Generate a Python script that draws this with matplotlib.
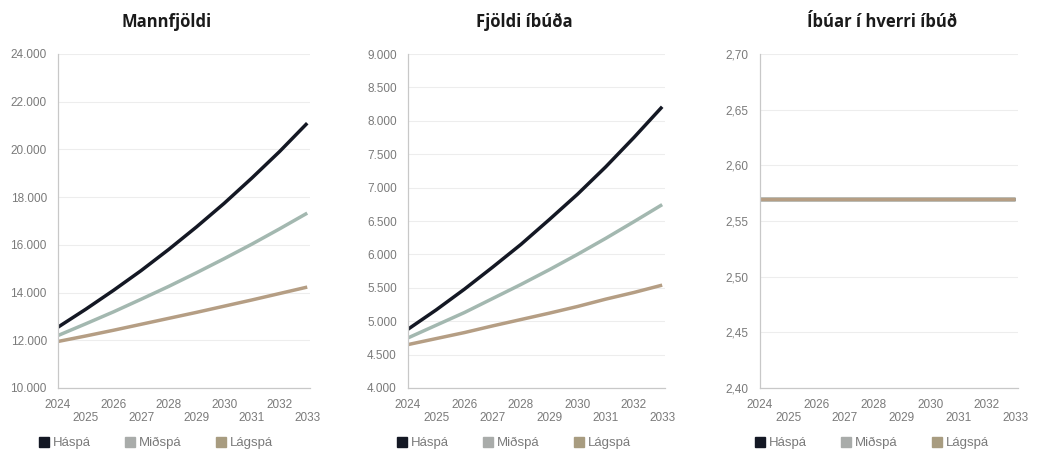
import matplotlib.pyplot as plt
from matplotlib.lines import Line2D
from matplotlib.ticker import FuncFormatter

years = [2024, 2025, 2026, 2027, 2028, 2029, 2030, 2031, 2032, 2033]
series = ['Háspá', 'Miðspá', 'Lágspá']
colors = ['#141824', '#a3b8b0', '#b59e84']
legend_colors = ['#141824', '#a9acaa', '#a89c80']

# Mannfjöldi
pop_hi = [12550, 13300, 14090, 14920, 15810, 16750, 17740, 18800, 19910, 21100]
pop_mid = [12200, 12690, 13190, 13720, 14260, 14830, 15420, 16030, 16670, 17330]
pop_lo = [11950, 12180, 12420, 12670, 12920, 13170, 13430, 13690, 13960, 14230]

# Fjöldi íbúða
dw_hi = [4880, 5170, 5480, 5810, 6150, 6520, 6900, 7310, 7750, 8210]
dw_mid = [4750, 4940, 5130, 5340, 5550, 5770, 6000, 6240, 6490, 6745]
dw_lo = [4650, 4740, 4830, 4930, 5025, 5120, 5220, 5330, 5430, 5540]

# Íbúar í hverri íbúð
ppd_hi = [2.57] * 10
ppd_mid = [2.57] * 10
ppd_lo = [2.57] * 10

plt.rcParams['font.family'] = ['Liberation Sans', 'DejaVu Sans']

fig = plt.figure(figsize=(10.49, 4.5), dpi=100)
W, H = 1049, 450
boxes = [(58, 310), (408, 665), (760, 1018)]
title_x = [167, 524, 882]
legend_x = [39, 397, 755]
top, bottom = 54, 388

panels = [
    ('Mannfjöldi', [pop_hi, pop_mid, pop_lo], (10000, 24000), 2000,
     lambda v, p: f'{int(round(v)):,}'.replace(',', '.')),
    ('Fjöldi íbúða', [dw_hi, dw_mid, dw_lo], (4000, 9000), 500,
     lambda v, p: f'{int(round(v)):,}'.replace(',', '.')),
    ('Íbúar í hverri íbúð', [ppd_hi, ppd_mid, ppd_lo], (2.40, 2.70), 0.05,
     lambda v, p: f'{v:.2f}'.replace('.', ',')),
]

tick_col = '#7a7a7a'

for i, ((x0, x1), (title, data, ylim, step, fmt)) in enumerate(zip(boxes, panels)):
    ax = fig.add_axes([x0 / W, 1 - bottom / H, (x1 - x0) / W, (bottom - top) / H])
    for vals, c in zip(data, colors):
        ax.plot(years, vals, color=c, lw=2.5, solid_capstyle='butt')
    ax.set_xlim(2024, 2033.1)
    ax.set_ylim(*ylim)
    n = int(round((ylim[1] - ylim[0]) / step))
    ax.set_yticks([ylim[0] + k * step for k in range(n + 1)])
    ax.yaxis.set_major_formatter(FuncFormatter(fmt))
    ax.set_xticks(years)
    ax.set_xticklabels([str(y) if k % 2 == 0 else '\n' + str(y) for k, y in enumerate(years)],
                       linespacing=1.05)
    ax.tick_params(axis='both', length=0, labelsize=8.5, labelcolor=tick_col)
    ax.tick_params(axis='y', pad=8)
    ax.tick_params(axis='x', pad=8)
    ax.grid(axis='y', color='#ededed', lw=0.8)
    ax.set_axisbelow(True)
    for s in ['top', 'right']:
        ax.spines[s].set_visible(False)
    for s in ['left', 'bottom']:
        ax.spines[s].set_color('#c8c8c8')
        ax.spines[s].set_linewidth(0.9)
    fig.text(title_x[i] / W, 1 - 22 / H, title, ha='center', va='center',
             fontsize=12, fontweight='bold', color='#1a1a1a',
             family=['Open Sans', 'DejaVu Sans'])
    handles = [Line2D([], [], marker='s', ls='none', markersize=7.5, color=c) for c in legend_colors]
    fig.legend(handles, series, loc='center left', bbox_to_anchor=(legend_x[i] / W, 1 - 443 / H),
               ncol=3, frameon=False, fontsize=9.5, labelcolor=tick_col, handlelength=0.8,
               handletextpad=0.25, columnspacing=2.6, borderpad=0, borderaxespad=0)

fig.savefig('out.png', dpi=100, facecolor='white')
